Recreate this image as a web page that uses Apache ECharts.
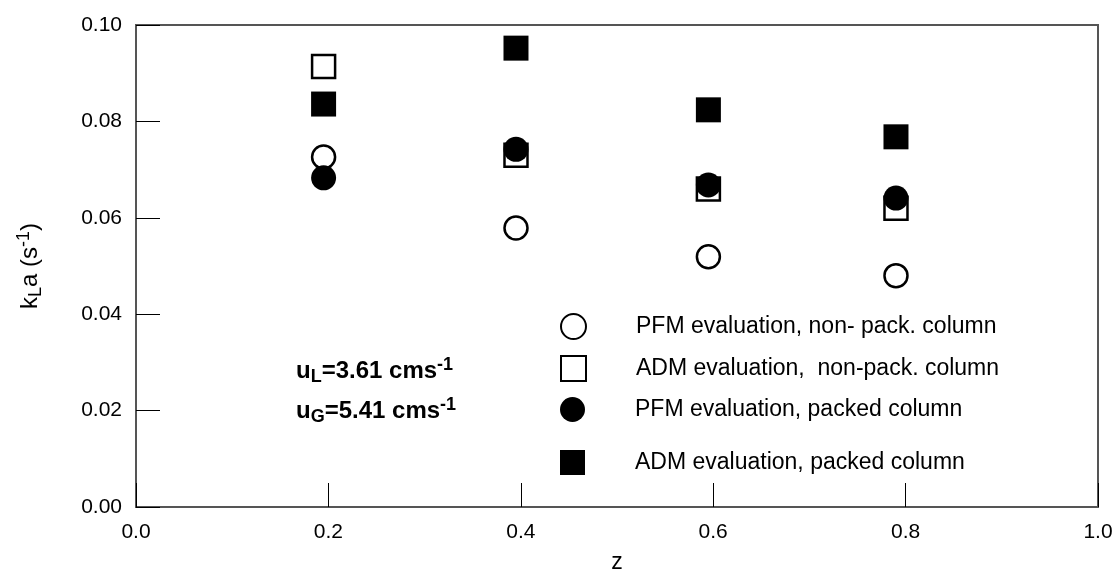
<!DOCTYPE html>
<html lang="en">

<head>
    <meta charset="UTF-8">
    <title>kLa vs z</title>
    <script src="https://cdn.jsdelivr.net/npm/echarts@6/dist/echarts.min.js"></script>
    <style>
        html, body { margin: 0; padding: 0; background: #fff; }
        #main { width: 1115px; height: 569px; }
    </style>
</head>

<body>
    <div id="main"></div>
    <script>
        // axial position z
        var zVals = [0.195, 0.395, 0.595, 0.79];
        // kLa values (s-1)
        var pfmNonPack = [0.0726, 0.0579, 0.0519, 0.0480];
        var admNonPack = [0.0914, 0.0730, 0.0660, 0.0620];
        var pfmPacked = [0.0683, 0.0742, 0.0668, 0.0641];
        var admPacked = [0.0836, 0.0952, 0.0824, 0.0768];
        var seriesNames = [
            'PFM evaluation, non- pack. column',
            'ADM evaluation,  non-pack. column',
            'PFM evaluation, packed column',
            'ADM evaluation, packed column'
        ];

        function pairs(ys) {
            var out = [];
            for (var i = 0; i < zVals.length; i++) {
                out.push([zVals[i], ys[i]]);
            }
            return out;
        }

        var font = 'Arial, "Liberation Sans", sans-serif';
        var myChart = echarts.init(document.getElementById('main'));

        // one legend per row, rows are not evenly spaced in the original
        var legendTops = [308, 350, 392, 445];
        var legends = [];
        for (var k = 0; k < seriesNames.length; k++) {
            legends.push({
                data: [seriesNames[k]],
                left: 555,
                top: legendTops[k],
                orient: 'vertical',
                itemWidth: 25,
                itemHeight: 25,
                selectedMode: false,
                textStyle: {
                    fontFamily: font,
                    fontSize: 23,
                    color: '#000',
                    lineHeight: 25,
                    padding: [0, 0, 0, 45]
                }
            });
        }

        var openStyle = { color: '#fff', borderColor: '#000', borderWidth: 2.5, opacity: 1 };
        var fillStyle = { color: '#000', opacity: 1 };

        var option = {
            animation: false,
            backgroundColor: '#fff',
            grid: {
                left: 136,
                right: 17,
                top: 25,
                bottom: 62,
                outerBoundsMode: 'none',
                containLabel: false,
                show: true,
                borderColor: '#555',
                borderWidth: 2
            },
            legend: legends,
            xAxis: {
                type: 'value',
                min: 0,
                max: 1,
                interval: 0.2,
                name: 'z',
                nameLocation: 'middle',
                nameGap: 44,
                nameTextStyle: { fontFamily: font, fontSize: 23, color: '#000' },
                axisLine: { lineStyle: { color: '#555', width: 2 } },
                axisTick: { inside: true, length: 24, lineStyle: { color: '#000', width: 1 } },
                axisLabel: {
                    fontFamily: font, fontSize: 21, color: '#000', margin: 15,
                    formatter: function(v) { return v.toFixed(1); }
                },
                splitLine: { show: false }
            },
            yAxis: {
                type: 'value',
                min: 0,
                max: 0.1,
                interval: 0.02,
                name: 'k{sub|L}a (s{sup|-1})',
                nameLocation: 'middle',
                nameRotate: 90,
                nameGap: 91,
                nameTextStyle: {
                    fontFamily: font, fontSize: 24, color: '#000',
                    rich: {
                        sub: { fontFamily: font, fontSize: 18, color: '#000', padding: [12, 0, 0, 0] },
                        sup: { fontFamily: font, fontSize: 18, color: '#000', padding: [0, 0, 12, 0] }
                    }
                },
                axisLine: { lineStyle: { color: '#555', width: 2 } },
                axisTick: { inside: true, length: 24, lineStyle: { color: '#000', width: 1 } },
                axisLabel: {
                    fontFamily: font, fontSize: 21, color: '#000', margin: 14,
                    formatter: function(v) { return v.toFixed(2); }
                },
                splitLine: { show: false }
            },
            graphic: [{
                type: 'text',
                left: 296,
                top: 356,
                style: {
                    text: '{b|u}{s|L}{b|=3.61 cms}{p|-1}\n{b|u}{s|G}{b|=5.41 cms}{p|-1}',
                    fill: '#000',
                    rich: {
                        b: { fontFamily: font, fontSize: 24, fontWeight: 'bold', lineHeight: 40, fill: '#000' },
                        s: { fontFamily: font, fontSize: 18, fontWeight: 'bold', lineHeight: 40, padding: [12, 0, 0, 0], fill: '#000' },
                        p: { fontFamily: font, fontSize: 18, fontWeight: 'bold', lineHeight: 40, padding: [0, 0, 12, 0], fill: '#000' }
                    }
                }
            }],
            series: [{
                name: seriesNames[0],
                type: 'scatter',
                symbol: 'circle',
                symbolSize: 23,
                itemStyle: openStyle,
                data: pairs(pfmNonPack),
                z: 2
            }, {
                name: seriesNames[1],
                type: 'scatter',
                symbol: 'rect',
                symbolSize: 23,
                itemStyle: openStyle,
                data: pairs(admNonPack),
                z: 3
            }, {
                name: seriesNames[2],
                type: 'scatter',
                symbol: 'circle',
                symbolSize: 25,
                itemStyle: fillStyle,
                data: pairs(pfmPacked),
                z: 4
            }, {
                name: seriesNames[3],
                type: 'scatter',
                symbol: 'rect',
                symbolSize: 25,
                itemStyle: fillStyle,
                data: pairs(admPacked),
                z: 5
            }]
        };
        myChart.setOption(option);
    </script>
</body>

</html>
